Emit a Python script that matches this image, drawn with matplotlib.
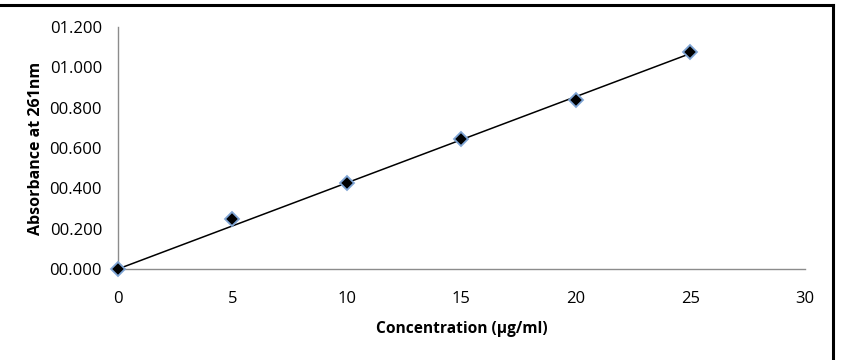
import numpy as np
import matplotlib.pyplot as plt
from matplotlib.lines import Line2D

# data
conc = np.array([0, 5, 10, 15, 20, 25])
absorb = np.array([0.000, 0.246, 0.425, 0.645, 0.838, 1.074])
x_ticks = [0, 5, 10, 15, 20, 25, 30]
y_ticks = [0.0, 0.2, 0.4, 0.6, 0.8, 1.0, 1.2]

plt.rcParams['font.family'] = ['Open Sans', 'DejaVu Sans']

fig = plt.figure(figsize=(8.41, 3.6), dpi=100)
ax = fig.add_axes([0.1403, 0.2528, 0.8167, 0.6722])

# linear trendline through origin
slope = np.sum(conc * absorb) / np.sum(conc ** 2)
ax.plot([0, conc.max()], [0, slope * conc.max()], color='black', lw=1.1, zorder=2)
ax.plot(conc, absorb, ls='none', marker='D', ms=7, mfc='black',
        mec='#7ea4d4', mew=1.3, zorder=3, clip_on=False)

ax.set_xlim(0, 30)
ax.set_ylim(0, 1.2)
ax.set_xticks(x_ticks)
ax.set_yticks(y_ticks)
ax.set_yticklabels(['{:06.3f}'.format(v) for v in y_ticks])
ax.tick_params(length=0, labelsize=12, pad=16)
ax.tick_params(axis='y', pad=11.5)
for s in ['top', 'right']:
    ax.spines[s].set_visible(False)
for s in ['left', 'bottom']:
    ax.spines[s].set_color('#8c8c8c')
    ax.spines[s].set_linewidth(1.0)

ax.set_xlabel('Concentration (µg/ml)', fontsize=11.2, fontweight='bold', labelpad=10)
ax.set_ylabel('Absorbance at 261nm', fontsize=11.5, fontweight='bold', labelpad=4)

# outer frame (top and right edges visible in the crop)
fig.add_artist(Line2D([0, 0.9905], [0.985, 0.985], color='black', lw=2.2,
                      transform=fig.transFigure))
fig.add_artist(Line2D([0.9905, 0.9905], [0, 0.985], color='black', lw=2.2,
                      transform=fig.transFigure))

fig.savefig('out.png', dpi=100)
